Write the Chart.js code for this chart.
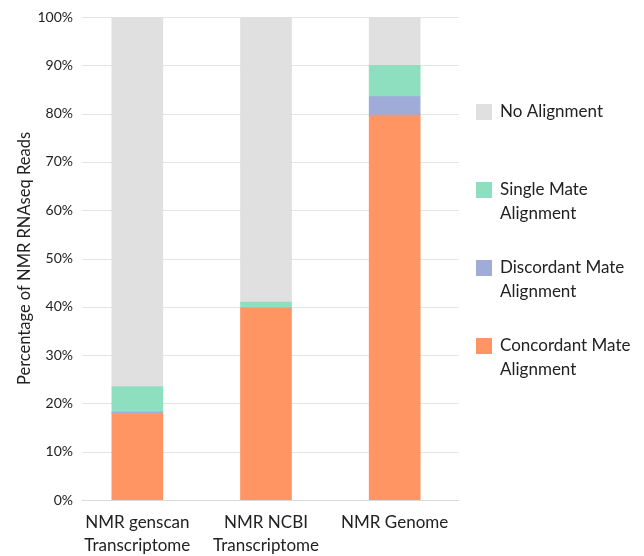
<!DOCTYPE html>
<html>
<head>
<meta charset="utf-8">
<script src="https://cdn.jsdelivr.net/npm/chart.js@4/dist/chart.umd.min.js"></script>
<style>
  html, body { margin: 0; padding: 0; background: #ffffff; }
  #wrap { width: 644px; height: 556px; position: relative; }
</style>
</head>
<body>
<div id="wrap"><canvas id="chart" width="644" height="556"></canvas></div>
<script>
// Categories (each split into its printed lines)
const categories = [
  ["NMR genscan", "Transcriptome"],
  ["NMR NCBI", "Transcriptome"],
  ["NMR Genome"]
];

// Percentage of reads per alignment class
const concordant = [17.9, 39.7, 79.7];
const discordant = [0.3, 0.1, 3.8];
const singleMate = [5.3, 1.2, 6.5];
const noAlignment = [76.5, 59.0, 10.0];

// Y-axis tick values
const yTicks = [0, 10, 20, 30, 40, 50, 60, 70, 80, 90, 100];

// Series names and how they wrap in the legend
const seriesNames = ["Concordant Mate Alignment", "Discordant Mate Alignment", "Single Mate Alignment", "No Alignment"];
const legendLines = [["Concordant Mate", "Alignment"], ["Discordant Mate", "Alignment"], ["Single Mate", "Alignment"], ["No Alignment"]];

const colors = ["#ff9563", "#a0acd8", "#8ddfbf", "#e0e0e0"];
const FONT = "Lato, 'Open Sans', sans-serif";
const TEXT = "#222222";
const PLOT_LEFT = 82;

// Horizontal gridlines across the plot, at the y-scale's tick positions
const yGrid = {
  id: "yGrid",
  beforeDatasetsDraw(chart) {
    const { ctx, chartArea, scales } = chart;
    ctx.save();
    ctx.strokeStyle = "#e4e4e4";
    ctx.lineWidth = 1;
    yTicks.forEach(v => {
      if (v === 0) return;
      const y = Math.round(scales.y.getPixelForValue(v)) + 0.5;
      ctx.beginPath();
      ctx.moveTo(PLOT_LEFT, y);
      ctx.lineTo(chartArea.right, y);
      ctx.stroke();
    });
    // baseline
    const y0 = Math.round(scales.y.getPixelForValue(0)) + 0.5;
    ctx.strokeStyle = "#d9d9d9";
    ctx.beginPath();
    ctx.moveTo(PLOT_LEFT, y0);
    ctx.lineTo(chartArea.right, y0);
    ctx.stroke();
    ctx.restore();
  }
};

// Legend drawn at the right, top series first
const sideLegend = {
  id: "sideLegend",
  afterDraw(chart) {
    const ctx = chart.ctx;
    ctx.save();
    ctx.font = "17px " + FONT;
    ctx.textBaseline = "middle";
    ctx.textAlign = "left";
    const n = chart.data.datasets.length;
    for (let k = 0; k < n; k++) {
      const di = n - 1 - k;
      const ds = chart.data.datasets[di];
      const cy = 112 + k * 78;
      ctx.fillStyle = ds.backgroundColor;
      ctx.fillRect(476, cy - 8, 16, 16);
      ctx.fillStyle = TEXT;
      legendLines[di].forEach((line, j) => {
        ctx.fillText(line, 500, cy + j * 24);
      });
    }
    ctx.restore();
  }
};

const datasets = [concordant, discordant, singleMate, noAlignment].map((vals, i) => ({
  label: seriesNames[i],
  data: vals,
  backgroundColor: colors[i],
  borderWidth: 0,
  barThickness: 51
}));

new Chart(document.getElementById("chart"), {
  type: "bar",
  data: {
    labels: categories,
    datasets: datasets
  },
  plugins: [yGrid, sideLegend],
  options: {
    responsive: false,
    animation: false,
    layout: { padding: { left: 15, right: 185, top: 17, bottom: 0 } },
    plugins: {
      legend: { display: false },
      tooltip: { enabled: false }
    },
    scales: {
      x: {
        stacked: true,
        afterFit(scale) { scale.height = 56; },
        grid: { display: false, drawTicks: false },
        border: { display: false },
        ticks: {
          autoSkip: false,
          maxRotation: 0,
          padding: 11,
          color: TEXT,
          font: { family: FONT, size: 17, lineHeight: 1.35 }
        }
      },
      y: {
        stacked: true,
        min: 0,
        max: 100,
        afterFit(scale) { scale.width = 58; },
        afterBuildTicks(scale) {
          scale.ticks = yTicks.map(v => ({ value: v }));
        },
        grid: { display: false, drawTicks: false },
        border: { display: false },
        ticks: {
          padding: 0,
          color: TEXT,
          font: { family: FONT, size: 14 },
          callback: (v) => v + "%"
        },
        title: {
          display: true,
          text: "Percentage of NMR RNAseq Reads",
          color: TEXT,
          font: { family: FONT, size: 16.5 },
          padding: { top: 0, bottom: 6 }
        }
      }
    }
  }
});
</script>
</body>
</html>
